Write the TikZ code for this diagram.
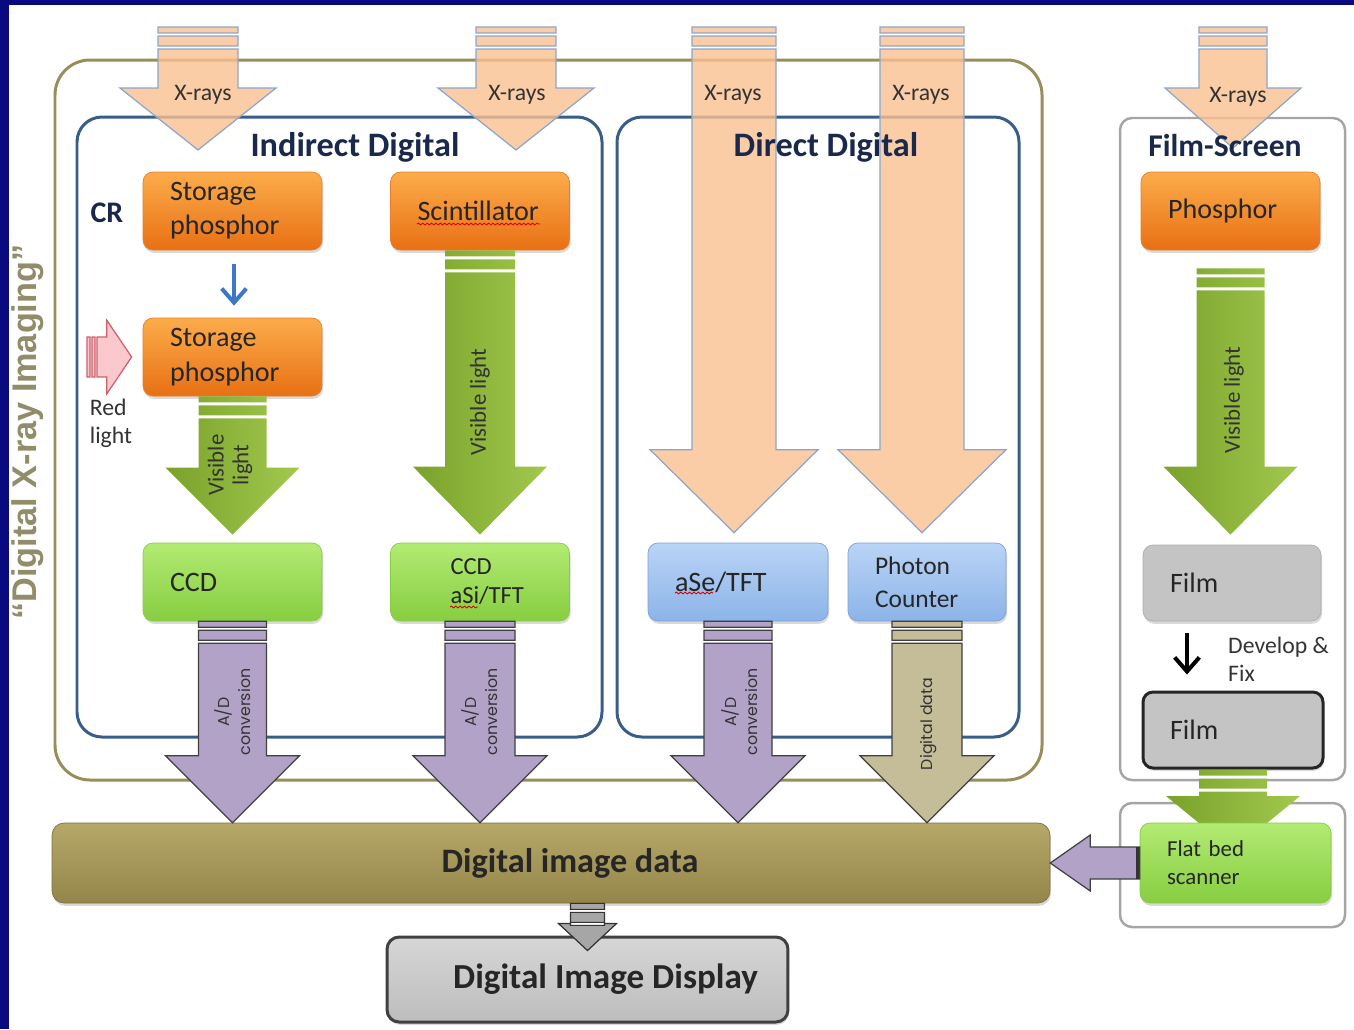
\documentclass[tikz,border=0pt]{standalone}
\usepackage{fontspec}
\setmainfont{Carlito}
\newfontfamily\arialbold{Liberation Sans}
\newfontfamily\gothic{Poppins}
\usetikzlibrary{calc,shadows,arrows.meta,decorations.pathmorphing}

\definecolor{slidebg}{RGB}{10,10,128}
\definecolor{olivefr}{RGB}{152,142,92}
\definecolor{olivetext}{RGB}{145,140,105}
\definecolor{bluefr}{RGB}{56,93,138}
\definecolor{grayfr}{RGB}{165,165,165}
\definecolor{titleblue}{RGB}{25,40,75}
\definecolor{xpeach}{RGB}{250,192,145}
\definecolor{xedge}{RGB}{140,165,205}
\definecolor{orangetop}{RGB}{252,172,75}
\definecolor{orangebot}{RGB}{232,112,20}
\definecolor{greentop}{RGB}{178,235,115}
\definecolor{greenbot}{RGB}{135,205,65}
\definecolor{bluetop}{RGB}{185,212,246}
\definecolor{bluebot}{RGB}{140,180,232}
\definecolor{filmgray}{RGB}{196,196,196}
\definecolor{arrgreenA}{RGB}{122,162,42}
\definecolor{arrgreenB}{RGB}{162,200,78}
\definecolor{adpurple}{RGB}{178,162,199}
\definecolor{datakhaki}{RGB}{196,189,151}
\definecolor{bartop}{RGB}{182,168,104}
\definecolor{barbot}{RGB}{148,134,74}
\definecolor{pinkfill}{RGB}{250,200,205}
\definecolor{pinkedge}{RGB}{205,95,105}
\definecolor{cbblue}{RGB}{60,120,200}

% block arrow pointing down: style, from, to, half shaft, half head, head length (px)
\newcommand{\fatarrow}[6]{%
  \path[#1] let \p1=(#2), \p2=(#3) in
    (\x1-#4*0.02cm,\y1) rectangle (\x1+#4*0.02cm,\y1-6*0.02cm)
    (\x1-#4*0.02cm,\y1-9*0.02cm) rectangle (\x1+#4*0.02cm,\y1-19*0.02cm)
    (\x1-#4*0.02cm,\y1-22*0.02cm) -- (\x1-#4*0.02cm,\y2+#6*0.02cm)
    -- (\x1-#5*0.02cm,\y2+#6*0.02cm) -- (\x1,\y2)
    -- (\x1+#5*0.02cm,\y2+#6*0.02cm) -- (\x1+#4*0.02cm,\y2+#6*0.02cm)
    -- (\x1+#4*0.02cm,\y1-22*0.02cm) -- cycle;}

\tikzset{
  framebox/.style={rounded corners=#1, line width=1.7pt},
  stagebox/.style={rounded corners=0.2cm, minimum height=1.56cm, inner xsep=0.54cm,
    inner ysep=0pt, align=left, text width=2.5cm, text=black!85,
    font=\fontsize{16}{19.5}\selectfont,
    drop shadow={opacity=0.3, shadow xshift=0.6pt, shadow yshift=-1.6pt}},
  orangestage/.style={stagebox, top color=orangetop, bottom color=orangebot, draw=orangebot!90!white},
  greenstage/.style={stagebox, top color=greentop, bottom color=greenbot, draw=greenbot},
  bluestage/.style={stagebox, top color=bluetop, bottom color=bluebot, draw=bluebot!90!black},
  filmstage/.style={stagebox, fill=filmgray, draw=grayfr!90, minimum height=1.52cm},
  boxtitle/.style={font=\bfseries\fontsize{19.5}{22}\selectfont, text=titleblue},
  smalllabel/.style={font=\fontsize{13.5}{16}\selectfont, text=black!80},
  rotlabel/.style={smalllabel, rotate=90, align=center, font=\fontsize{13}{14}\selectfont},
  adlabel/.style={rotate=90, align=center, font=\gothic\fontsize{9}{12}\selectfont, text=black!80},
  xraytip/.style={fill=xpeach, fill opacity=0.8, draw=xedge, line width=0.7pt},
  lightarrow/.style={left color=arrgreenA, right color=arrgreenB},
  adarrow/.style={fill=adpurple, draw=black!75, line width=0.7pt},
  dataarrow/.style={fill=datakhaki, draw=black!75, line width=0.7pt},
  showarrow/.style={fill=black!35, draw=black!80, line width=0.7pt},
  redlight/.style={fill=pinkfill, draw=pinkedge, line width=0.7pt},
  thinarrow/.style={line width=2.3pt, -{Straight Barb[length=8pt,width=14pt]}},
  spellmark/.style={red!85!black, line width=0.5pt, decorate,
    decoration={snake, amplitude=0.5pt, segment length=2.5pt}}
}

\begin{document}
\begin{tikzpicture}[x=0.02cm, y=-0.02cm]
\useasboundingbox (0,0) rectangle (1354,1029);
% slide edge
\fill[slidebg] (0,0) rectangle (1354,5);
\fill[slidebg] (0,0) rectangle (9,1029);

% frames
\draw[framebox=0.7cm, olivefr] (55,60) rectangle (1042,780);
\draw[framebox=0.5cm, bluefr] (77,117) rectangle (602,737);
\draw[framebox=0.5cm, bluefr] (617,117) rectangle (1019,737);
\draw[framebox=0.24cm, grayfr, line width=1.4pt] (1120,118) rectangle (1345,780);
\draw[framebox=0.24cm, grayfr, line width=1.4pt] (1120,803) rectangle (1345,927);

\node[rotate=90, font=\arialbold\bfseries\fontsize{19.5}{22}\selectfont, text=olivetext] (imaging) at (28,432) {“Digital X-ray Imaging”};

% stages
\node[orangestage] (sp1) at (232.5,211) {Storage\\phosphor};
\node[orangestage] (scint) at (480,211) {Scintillator};
\node[orangestage] (sp2) at (232.5,357) {Storage\\phosphor};
\node[orangestage] (phos) at (1230.5,211) {Phosphor};
\node[greenstage] (ccd) at (232.5,582) {CCD};
\node[greenstage, font=\fontsize{14}{16.5}\selectfont] (ccdasi) at (480,582) {\hspace*{0.66cm}CCD\\\hspace*{0.66cm}aSi/TFT};
\node[bluestage, text width=2.52cm] (ase) at (738,582) {aSe/TFT};
\node[bluestage, text width=2.08cm, font=\fontsize{14.5}{19}\selectfont] (photon) at (927,582) {Photon\\Counter};
\node[filmstage, text width=2.48cm] (film1) at (1232,583) {Film};
\node[filmstage, text width=2.52cm, draw=black!85, line width=1.7pt] (film2) at (1233,730) {Film};

\node[rounded corners=0.24cm, minimum width=19.96cm, minimum height=1.6cm, top color=bartop, bottom color=barbot,
  draw=barbot!85!black, font=\bfseries\fontsize{19.5}{22}\selectfont, text=black!85,
  drop shadow={opacity=0.3, shadow xshift=0.6pt, shadow yshift=-1.6pt}] (data) at (551,863) {\hspace*{0.76cm}Digital image data};
\node[rounded corners=0.24cm, minimum width=8.02cm, minimum height=1.7cm, top color=black!16, bottom color=black!26,
  draw=black!75, line width=1.7pt, font=\bfseries\fontsize{20}{22}\selectfont, text=black!85,
  drop shadow={opacity=0.3, shadow xshift=0.6pt, shadow yshift=-1.6pt}] (disp) at (587.5,979.5) {\hspace*{0.72cm}Digital Image Display};

% X-rays
\coordinate (xr1) at (198,27);
\coordinate (xr1end) at (198,150);
\coordinate (xr2) at (516,27);
\coordinate (xr2end) at (516,150);
\coordinate (xr3) at (734,27);
\coordinate (xr4) at (922,27);
\coordinate (xr5) at (1233,27);
\coordinate (xr5end) at (1233,148);
\fatarrow{xraytip}{xr1}{xr1end}{40}{78}{62}
\fatarrow{xraytip}{xr2}{xr2end}{40}{78}{62}
\fatarrow{xraytip}{xr3}{$(ase.north)+(0,-10)$}{42}{84}{83}
\fatarrow{xraytip}{xr4}{$(photon.north)+(0,-10)$}{42}{84}{83}
\fatarrow{xraytip}{xr5}{xr5end}{34}{68}{60}
\node[smalllabel] (xl1) at (203,95) {X-rays};
\node[smalllabel] (xl2) at (517,95) {X-rays};
\node[smalllabel] (xl3) at (733,95) {X-rays};
\node[smalllabel] (xl4) at (921,95) {X-rays};
\node[smalllabel] (xl5) at (1238,97) {X-rays};

% titles
\node[boxtitle] (indirect) at (355,147) {Indirect Digital};
\node[boxtitle] (direct) at (826,147) {Direct Digital};
\node[boxtitle, font=\bfseries\fontsize{18}{20}\selectfont] (filmscreen) at (1225,146) {Film-Screen};
\node[boxtitle, font=\bfseries\fontsize{17}{20}\selectfont] (cr) at (107,213) {CR};

% CR readout
\draw[thinarrow, cbblue] ($(sp1.south)+(1.5,14)$) -- ($(sp2.north)+(1.5,-12)$);
\coordinate (rl) at (87,357);
\path[redlight] let \p1=(rl), \p2=($(sp2.west)+(-11,0)$) in
  (\x1,\y1+20*0.02cm) rectangle (\x1+3*0.02cm,\y1-20*0.02cm)
  (\x1+5*0.02cm,\y1+20*0.02cm) rectangle (\x1+8*0.02cm,\y1-20*0.02cm)
  (\x1+10*0.02cm,\y1+20*0.02cm) -- (\x2-25*0.02cm,\y1+20*0.02cm) -- (\x2-25*0.02cm,\y1+37*0.02cm)
  -- (\x2,\y1) -- (\x2-25*0.02cm,\y1-37*0.02cm) -- (\x2-25*0.02cm,\y1-20*0.02cm)
  -- (\x1+10*0.02cm,\y1-20*0.02cm) -- cycle;
\node[smalllabel, align=left] (rltext) at (111,423) {Red\\light};

% visible light
\fatarrow{lightarrow}{sp2.south}{$(ccd.north)+(0,-8)$}{34}{67}{67}
\fatarrow{lightarrow}{scint.south}{$(ccdasi.north)+(0,-8)$}{35}{67}{68}
\fatarrow{lightarrow}{$(phos.south)+(0,18)$}{$(film1.north)+(0,-10)$}{34}{67}{68}
\node[rotlabel] (vl1) at (230,465) {Visible\\light};
\node[rotlabel] (vl2) at (480,402) {Visible light};
\node[rotlabel] (vl3) at (1234,400) {Visible light};

% film processing
\draw[thinarrow, black] ($(film1.south)+(-45,12)$) -- ($(film2.north)+(-46,-16)$);
\node[smalllabel, align=left, anchor=west] (devfix) at (1222,659) {Develop \&\\Fix};
\coordinate (scan) at (1235.5,863);
\fatarrow{lightarrow}{film2.south}{$(scan)+(0,-12)$}{34}{67}{55}
\node[greenstage, text width=2.74cm, minimum height=1.6cm, font=\fontsize{13}{16}\selectfont] (scanner) at (scan) {Flat bed\\scanner};

% to digital image data
\fatarrow{adarrow}{ccd.south}{ccd.south |- data.north}{34}{67}{67}
\fatarrow{adarrow}{ccdasi.south}{ccdasi.south |- data.north}{35}{67}{67}
\fatarrow{adarrow}{ase.south}{ase.south |- data.north}{34}{67}{67}
\fatarrow{dataarrow}{photon.south}{photon.south |- data.north}{35}{67}{67}
\node[adlabel] (ad1) at (233,712) {A/D\\conversion};
\node[adlabel] (ad2) at (480,712) {A/D\\conversion};
\node[adlabel] (ad3) at (740,712) {A/D\\conversion};
\node[adlabel] (dd) at (929,724) {Digital data};

\path[adarrow] let \p1=(scanner.west), \p2=(data.east) in
  (\x1,\y1+16*0.02cm) -- (\x2+40*0.02cm,\y1+16*0.02cm) -- (\x2+40*0.02cm,\y1+28*0.02cm)
  -- (\x2,\y1) -- (\x2+40*0.02cm,\y1-28*0.02cm) -- (\x2+40*0.02cm,\y1-16*0.02cm)
  -- (\x1,\y1-16*0.02cm) -- cycle;
\draw[black!80, line width=1.5pt] ($(scanner.west)+(-2,-16)$) -- ($(scanner.west)+(-2,16)$);

\fatarrow{showarrow}{disp.north |- data.south}{$(disp.north)+(0,15)$}{17}{29}{27}

% spelling marks
\draw[spellmark] (417,224) -- (540,224);
\draw[spellmark] (450,607) -- (478,607);
\draw[spellmark] (675,593) -- (713,593);
\end{tikzpicture}
\end{document}
